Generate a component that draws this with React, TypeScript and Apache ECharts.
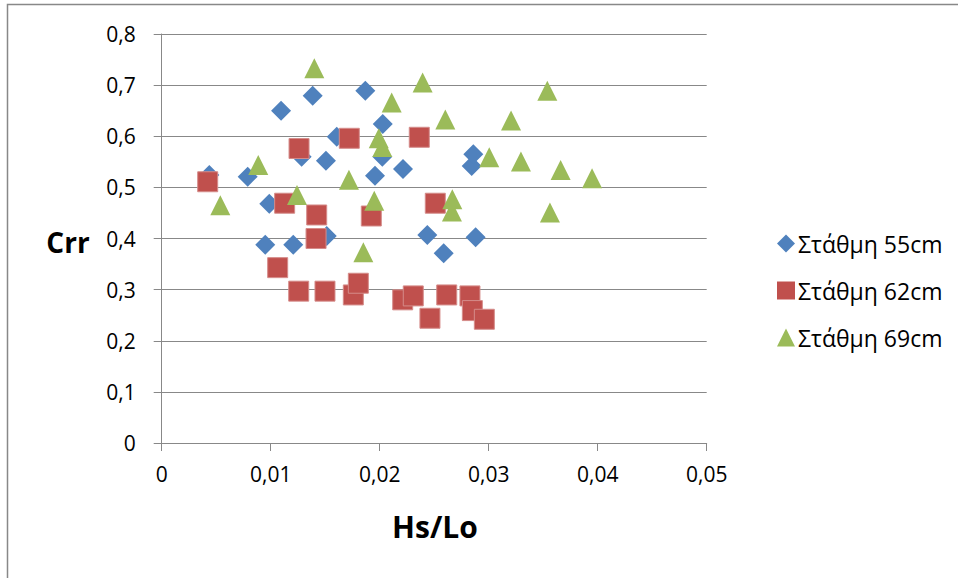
import React, { useEffect, useRef } from "react";
import * as echarts from "echarts";

const seriesNames = ["Στάθμη 55cm", "Στάθμη 62cm", "Στάθμη 69cm"];

const s55: [number, number][] = [
  [0.00437, 0.524], [0.00789, 0.521], [0.00987, 0.468], [0.0095, 0.388],
  [0.01095, 0.65], [0.01207, 0.388], [0.01284, 0.56], [0.01385, 0.679],
  [0.01507, 0.552], [0.01514, 0.405], [0.01606, 0.599], [0.01868, 0.689],
  [0.01957, 0.5225], [0.02024, 0.56], [0.02028, 0.624], [0.02214, 0.536],
  [0.02437, 0.407], [0.02587, 0.371], [0.02844, 0.542], [0.02859, 0.565],
  [0.0288, 0.4025],
];

const s62: [number, number][] = [
  [0.00422, 0.511], [0.01064, 0.343], [0.01128, 0.469], [0.0126, 0.576],
  [0.01257, 0.297], [0.01416, 0.4], [0.01422, 0.446], [0.01498, 0.297],
  [0.01721, 0.596], [0.01758, 0.2896], [0.01804, 0.3125], [0.01923, 0.444],
  [0.02211, 0.28], [0.02308, 0.2877], [0.02363, 0.598], [0.02461, 0.244],
  [0.0251, 0.469], [0.02615, 0.2896], [0.02828, 0.2877], [0.0285, 0.259],
  [0.0296, 0.242],
];

const s69: [number, number][] = [
  [0.00538, 0.465], [0.00886, 0.544], [0.01241, 0.485], [0.014, 0.733],
  [0.01718, 0.5147], [0.0185, 0.373], [0.0195, 0.4736], [0.01991, 0.596],
  [0.02024, 0.579], [0.0211, 0.666], [0.02394, 0.705], [0.02602, 0.633],
  [0.02663, 0.4526], [0.02666, 0.477], [0.03005, 0.559], [0.03205, 0.631],
  [0.03296, 0.5505], [0.03538, 0.689], [0.03562, 0.4507], [0.0366, 0.534],
  [0.03948, 0.518],
];

const xTitle = "Hs/Lo";
const yTitle = "Crr";

const FONT = "'Open Sans', 'Noto Sans', sans-serif";
const GRID_COLOR = "#888888";

const fmt = (v: number) => String(+v.toFixed(4)).replace(".", ",");

export default function App() {
  const ref = useRef<HTMLDivElement>(null);
  useEffect(() => {
    if (!ref.current) return;
    const chart = echarts.init(ref.current, undefined, { renderer: "svg" });
    chart.setOption({
      animation: false,
      backgroundColor: "#ffffff",
      textStyle: { fontFamily: FONT },
      grid: { left: 161.7, top: 34, right: 251.3, bottom: 135 },
      xAxis: {
        type: "value",
        min: 0,
        max: 0.05,
        interval: 0.01,
        axisLine: { show: true, lineStyle: { color: GRID_COLOR, width: 1 } },
        axisTick: { show: true, length: 8, lineStyle: { color: GRID_COLOR } },
        splitLine: { show: false },
        axisLabel: { color: "#000", fontSize: 21, fontFamily: FONT, margin: 20, formatter: fmt },
      },
      yAxis: {
        type: "value",
        min: 0,
        max: 0.8,
        interval: 0.1,
        axisLine: { show: true, lineStyle: { color: GRID_COLOR, width: 1 } },
        axisTick: { show: true, length: 8, lineStyle: { color: GRID_COLOR } },
        splitLine: { show: true, lineStyle: { color: GRID_COLOR, width: 1 } },
        axisLabel: { color: "#000", fontSize: 21, fontFamily: FONT, margin: 26, formatter: fmt },
      },
      legend: {
        orient: "vertical",
        left: 772,
        top: 227,
        itemWidth: 18,
        itemHeight: 18,
        itemGap: 24,
        itemStyle: { borderWidth: 0 },
        textStyle: { color: "#000", fontSize: 23, fontFamily: FONT, padding: [0, 0, 0, -2] },
        data: seriesNames,
      },
      graphic: [
        {
          type: "rect",
          shape: { x: 7.5, y: 4.5, width: 1200, height: 1200 },
          style: { fill: "none", stroke: "#888888", lineWidth: 1.5 },
          silent: true,
        },
        {
          type: "text",
          x: 68,
          y: 242,
          style: {
            text: yTitle,
            font: `bold 28px ${FONT}`,
            fill: "#000",
            textAlign: "center",
            textVerticalAlign: "middle",
          },
        },
        {
          type: "text",
          x: 435,
          y: 526,
          style: {
            text: xTitle,
            font: `bold 30px ${FONT}`,
            fill: "#000",
            textAlign: "center",
            textVerticalAlign: "middle",
          },
        },
      ],
      series: [
        {
          name: seriesNames[0],
          type: "scatter",
          symbol: "diamond",
          symbolSize: 20,
          itemStyle: { color: "#4F81BD", opacity: 1 },
          data: s55,
        },
        {
          name: seriesNames[1],
          type: "scatter",
          symbol: "rect",
          symbolSize: 20,
          itemStyle: { color: "#C0504D", opacity: 1, borderColor: "#D58C8A", borderWidth: 1 },
          data: s62,
        },
        {
          name: seriesNames[2],
          type: "scatter",
          symbol: "triangle",
          symbolSize: 20,
          itemStyle: { color: "#9BBB59", opacity: 1 },
          data: s69,
        },
      ],
    });
    return () => chart.dispose();
  }, []);
  return (
    <div
      ref={ref}
      style={{ position: "absolute", left: 0, top: 0, width: 958, height: 578 }}
    />
  );
}
